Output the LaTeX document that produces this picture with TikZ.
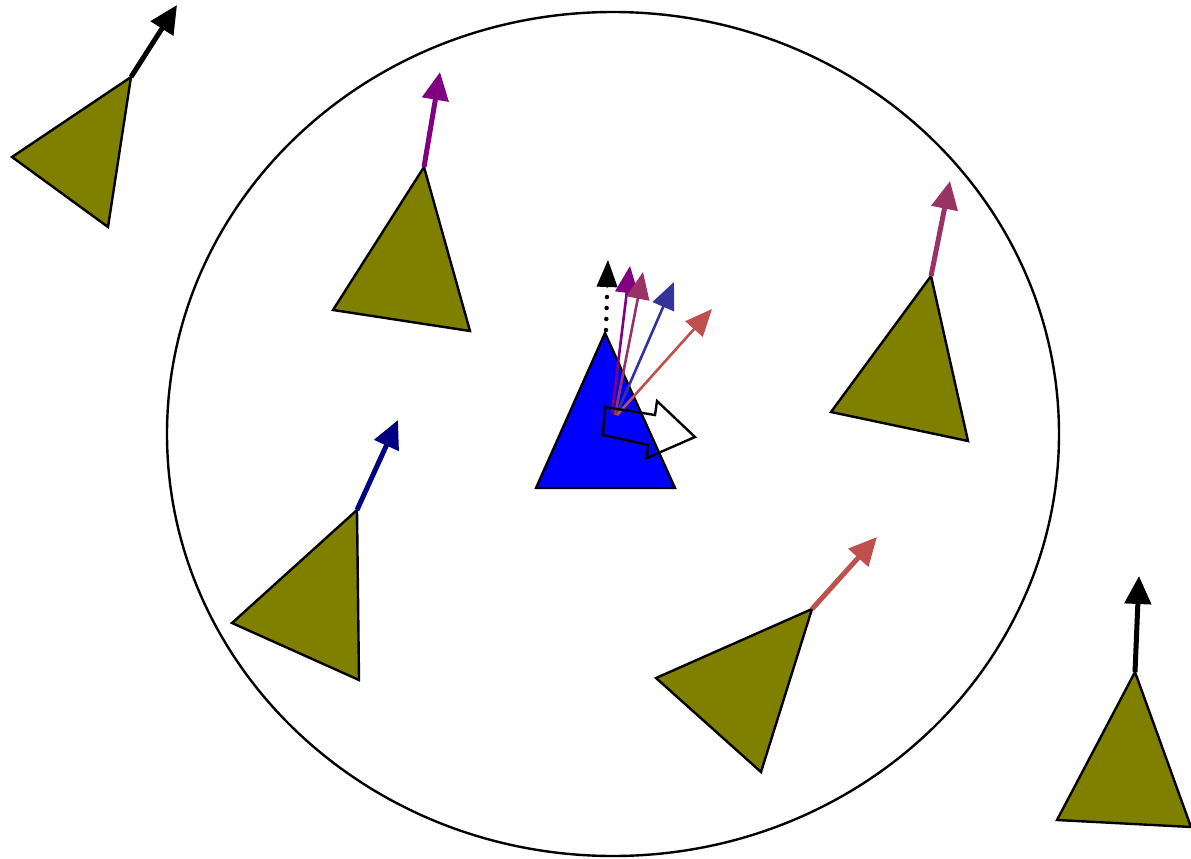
\documentclass[tikz,border=0pt]{standalone}
\usetikzlibrary{arrows.meta}
\definecolor{olivec}{HTML}{808000}
\definecolor{purp}{HTML}{800080}
\definecolor{mag}{HTML}{993366}
\definecolor{navyc}{HTML}{000080}
\definecolor{blu}{HTML}{333399}
\definecolor{redc}{HTML}{C0504D}
\begin{document}
\begin{tikzpicture}[x=1pt,y=-1pt,
  tri/.style={draw=black,fill=olivec,line width=2.4pt,line join=miter},
  bigarrow/.style={line width=5pt,-{Triangle[length=28pt,width=26pt]}},
  smallarrow/.style={line width=2.6pt,-{Triangle[length=27pt,width=23pt]}}]
\useasboundingbox (0,0) rectangle (1191,859);
\draw[line width=2.4pt] (613,434) ellipse [x radius=446, y radius=422];
% olive triangles
\draw[tri] (131,77) -- (12,157) -- (108,227) -- cycle;
\draw[tri] (424,167) -- (333,310) -- (470,331) -- cycle;
\draw[tri] (931,276) -- (831,412) -- (968,441) -- cycle;
\draw[tri] (357,510) -- (232,623) -- (359,680) -- cycle;
\draw[tri] (812,609) -- (656,678) -- (761,772) -- cycle;
\draw[tri] (1135,672) -- (1057,820) -- (1191,827) -- cycle;
% their heading arrows
\draw[bigarrow,black] (131,77) -- (177,5);
\draw[bigarrow,purp] (424,167) -- (440,72);
\draw[bigarrow,mag] (931,276) -- (950,181);
\draw[bigarrow,navyc] (357,510) -- (398,420);
\draw[bigarrow,redc] (812,609) -- (877,537);
\draw[bigarrow,black] (1135,672) -- (1139,576);
% blue agent
\draw[draw=black,fill=blue,line width=2.4pt] (605,333) -- (536,488) -- (675,488) -- cycle;
\draw[black,line width=4.5pt,line cap=round,dash pattern=on 0pt off 11pt] (606,330) -- (607,296);
\draw[black,line width=1pt,-{Triangle[length=27pt,width=21pt]}] (607,288) -- (608,260);
% small averaged arrows
\draw[smallarrow,purp] (612,413) -- (630,266);
\draw[smallarrow,mag] (615,415) -- (643,272);
\draw[smallarrow,blu] (617,413) -- (674,282);
\draw[smallarrow,redc] (617,415) -- (712,309);
% outline arrow
\draw[line width=2.4pt,line join=miter] (605,407) -- (655,415) -- (657,401) -- (695,437) -- (647,458) -- (648,445) -- (603,435) -- cycle;
\end{tikzpicture}
\end{document}
